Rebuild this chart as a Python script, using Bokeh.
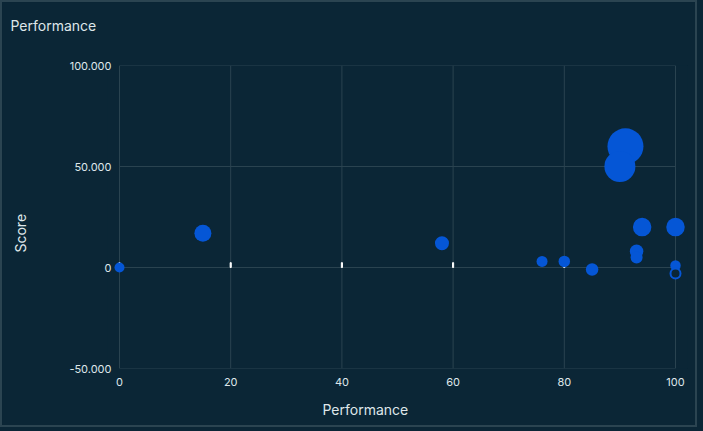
from bokeh.plotting import figure
from bokeh.models import FixedTicker, Title, GlobalInlineStyleSheet, ColumnDataSource, Range1d
from bokeh.embed import file_html
from bokeh.resources import INLINE

# ---- data ----
performance = [0, 15, 58, 76, 80, 85, 91, 90, 94, 100, 93, 93, 100]
score = [0, 17, 12, 3, 3, -1, 60, 50, 20, 20, 8, 5, 1]
bubble = [10, 17, 14, 11, 11.5, 12.5, 36, 31, 18.5, 18.5, 13.5, 12, 10.5]
hollow_performance = [100]
hollow_score = [-3]
hollow_bubble = [10]
x_ticks = [0, 20, 40, 60, 80, 100]
y_ticks = [-50, 0, 50, 100]
y_tick_labels = ["-50.000", "0", "50.000", "100.000"]

BG = "#0b2636"
GRID = "#2a4350"
TEXT = "#dfe6ea"
BLUE = "#0556d6"
FONT = "Inter"

PX_PER_UNIT = 5.56
PAD = 12 / PX_PER_UNIT  # room so the edge bubbles are not cut

p = figure(width=697, height=427,
           x_range=Range1d(min(x_ticks) - PAD, max(x_ticks) + PAD),
           y_range=Range1d(min(y_ticks), max(y_ticks)),
           output_backend="svg", toolbar_location=None,
           min_border_left=105, min_border_right=12, min_border_top=63,
           min_border_bottom=61)
p.title.visible = False
p.background_fill_color = BG
p.border_fill_color = BG
p.outline_line_color = None
p.styles = {"border": "2px solid #2b4451"}
p.stylesheets = [GlobalInlineStyleSheet(css="html,body{margin:0;padding:0;background:%s;}" % BG)]

for ax in (p.xaxis[0], p.yaxis[0]):
    ax.axis_line_color = None
    ax.major_tick_line_color = None
    ax.minor_tick_line_color = None
    ax.major_tick_out = 0
    ax.major_tick_in = 0
    ax.major_label_text_color = TEXT
    ax.major_label_text_font = FONT
    ax.major_label_text_font_size = "11px"

p.xaxis[0].ticker = FixedTicker(ticks=x_ticks)
p.yaxis[0].ticker = FixedTicker(ticks=y_ticks)
p.yaxis[0].major_label_overrides = {t: l for t, l in zip(y_ticks, y_tick_labels)}
p.xaxis[0].major_label_standoff = 9
p.yaxis[0].major_label_standoff = -4

p.grid.visible = False
# grid drawn from the tick lists, bounded to the tick span
p.segment(x0=x_ticks, x1=x_ticks, y0=min(y_ticks), y1=max(y_ticks),
          line_color=GRID, line_width=1)
p.segment(x0=min(x_ticks), x1=max(x_ticks), y0=y_ticks, y1=y_ticks,
          line_color=GRID, line_width=1)

# small white tick marks along the zero line
p.vbar(x=x_ticks, top=2.4, bottom=0, width=0.2, color="#ffffff")

src = ColumnDataSource(dict(x=performance, y=score, s=bubble))
p.scatter("x", "y", size="s", source=src, fill_color=BLUE, line_color=None)
p.scatter(hollow_performance, hollow_score, size=hollow_bubble, fill_color=BG,
          line_color=BLUE, line_width=2)

TXT = dict(text_font=FONT, text_font_size="14px", text_font_style="normal",
           text_color=TEXT)

# spacers (blank) then the real titles, stacked outward from the frame
p.add_layout(Title(text=" ", standoff=11, **TXT), "above")
p.add_layout(Title(text="Performance", align="left", offset=-97, standoff=0,
                   vertical_align="top", **TXT), "above")
p.add_layout(Title(text="Performance", align="left", offset=215, standoff=20,
                   **TXT), "below")
p.add_layout(Title(text=" ", standoff=17, **TXT), "left")
p.add_layout(Title(text="Score", align="left", offset=116, standoff=0,
                   vertical_align="top", **TXT), "left")

open("out.html", "w").write(file_html(p, INLINE))
